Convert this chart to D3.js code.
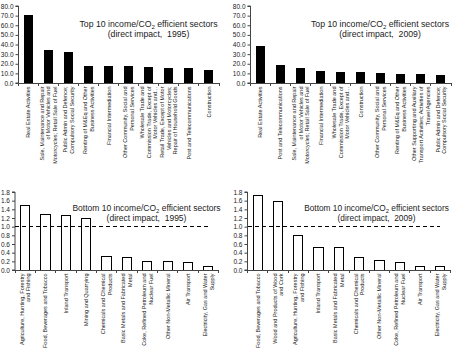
<!DOCTYPE html>
<html><head><meta charset="utf-8">
<script src="https://cdn.jsdelivr.net/npm/d3@7"></script>
<style>
html,body{margin:0;padding:0;background:#fff;}
svg{display:block;font-family:"Liberation Sans",Arial,sans-serif;}
</style></head>
<body><svg id="c" width="453" height="352"></svg>
<script>
// ---------- data ----------
const top1995Sectors = [
  "Real Estate Activities",
  "Sale, Maintenance and Repair|of Motor Vehicles and|Motorcycles; Retail Sale of Fuel",
  "Public Admin and Defence;|Compulsory Social Security",
  "Renting of M&Eq and Other|Business Activities",
  "Financial Intermediation",
  "Other Community, Social and|Personal Services",
  "Wholesale Trade and|Commission Trade, Except of|Motor Vehicles and…",
  "Retail Trade, Except of Motor|Vehicles and Motorcycles;|Repair of Household Goods",
  "Post and Telecommunications",
  "Construction"
];
const top1995Values = [70.8, 34.3, 31.9, 17.7, 17.6, 17.3, 16.5, 15.8, 15.3, 14.0];

const top2009Sectors = [
  "Real Estate Activities",
  "Post and Telecommunications",
  "Sale, Maintenance and Repair|of Motor Vehicles and|Motorcycles; Retail Sale of Fuel",
  "Financial Intermediation",
  "Wholesale Trade and|Commission Trade, Except of|Motor Vehicles and…",
  "Construction",
  "Other Community, Social and|Personal Services",
  "Renting of M&Eq and Other|Business Activities",
  "Other Supporting and Auxiliary|Transport Activities; Activities of|Travel Agencies",
  "Public Admin and Defence;|Compulsory Social Security"
];
const top2009Values = [38.0, 18.9, 15.5, 12.8, 11.4, 11.3, 10.7, 9.5, 9.2, 8.5];

const bottom1995Sectors = [
  "Agriculture, Hunting, Forestry|and Fishing",
  "Food, Beverages and Tobacco",
  "Inland Transport",
  "Mining and Quarrying",
  "Chemicals and Chemical|Products",
  "Basic Metals and Fabricated|Metal",
  "Coke, Refined Petroleum and|Nuclear Fuel",
  "Other Non-Metallic Mineral",
  "Air Transport",
  "Electricity, Gas and Water|Supply"
];
const bottom1995Values = [1.50, 1.28, 1.25, 1.19, 0.31, 0.29, 0.20, 0.19, 0.17, 0.07];

const bottom2009Sectors = [
  "Food, Beverages and Tobacco",
  "Wood and Products of Wood|and Cork",
  "Agriculture, Hunting, Forestry|and Fishing",
  "Inland Transport",
  "Basic Metals and Fabricated|Metal",
  "Chemicals and Chemical|Products",
  "Other Non-Metallic Mineral",
  "Coke, Refined Petroleum and|Nuclear Fuel",
  "Air Transport",
  "Electricity, Gas and Water|Supply"
];
const bottom2009Values = [1.71, 1.57, 0.80, 0.53, 0.51, 0.30, 0.23, 0.18, 0.09, 0.07];

const topTicks = [0, 10, 20, 30, 40, 50, 60, 70, 80];
const bottomTicks = [0, 0.2, 0.4, 0.6, 0.8, 1.0, 1.2, 1.4, 1.6, 1.8];
const referenceLevel = 1.0;

const titleTop = "Top 10 income/CO";
const titleBottom = "Bottom 10 income/CO";
const titleTail = " efficient sectors";

// ---------- layout ----------
const panels = [
  {cats: top1995Sectors, vals: top1995Values, ticks: topTicks, max: 80, title: titleTop, year: "1995",
   x0: 18.5, x1: 219, y0: 83, y1: 6, tx: 148.5, ty: 27, fs: 8.7, filled: true, ref: false},
  {cats: top2009Sectors, vals: top2009Values, ticks: topTicks, max: 80, title: titleTop, year: "2009",
   x0: 250.5, x1: 451, y0: 83, y1: 6, tx: 380, ty: 27, fs: 8.7, filled: true, ref: false},
  {cats: bottom1995Sectors, vals: bottom1995Values, ticks: bottomTicks, max: 1.8, title: titleBottom, year: "1995",
   x0: 15, x1: 218.5, y0: 270, y1: 192, tx: 146.5, ty: 211, fs: 8.5, filled: false, ref: true},
  {cats: bottom2009Sectors, vals: bottom2009Values, ticks: bottomTicks, max: 1.8, title: titleBottom, year: "2009",
   x0: 247.5, x1: 450.5, y0: 270, y1: 192, tx: 376.5, ty: 211, fs: 8.3, filled: false, ref: true}
];

const svg = d3.select("#c");
const ink = "#000";

panels.forEach(p => {
  const g = svg.append("g");
  const x = d3.scaleBand().domain(p.cats).range([p.x0, p.x1]).paddingInner(0.55).paddingOuter(0.275);
  const y = d3.scaleLinear().domain([0, p.max]).range([p.y0, p.y1]);

  // bars
  g.selectAll("rect.bar").data(p.cats).join("rect")
    .attr("x", d => x(d))
    .attr("y", (d, i) => y(p.vals[i]))
    .attr("width", x.bandwidth())
    .attr("height", (d, i) => y(0) - y(p.vals[i]))
    .attr("fill", p.filled ? ink : "#fff")
    .attr("stroke", ink)
    .attr("stroke-width", p.filled ? 0 : 1)
    .attr("shape-rendering", "crispEdges");

  // y axis
  const yAxis = d3.axisLeft(y).tickValues(p.ticks).tickSize(3).tickPadding(2)
    .tickFormat(d3.format(".1f"));
  const ya = g.append("g").attr("transform", `translate(${p.x0},0)`).call(yAxis);
  ya.select(".domain").attr("stroke", "#444").attr("d", `M-3,${p.y1}H0V${p.y0}H-3`);
  ya.selectAll(".tick line").attr("stroke", "#444");
  ya.selectAll(".tick text").attr("font-size", 6.5).attr("fill", "#222")
    .attr("font-family", "'Liberation Sans', Arial, sans-serif");

  // x axis line with ticks between categories
  const step = x.step();
  const bounds = d3.range(p.cats.length + 1).map(i => p.x0 + i * step);
  g.append("line").attr("x1", p.x0).attr("x2", p.x1).attr("y1", p.y0).attr("y2", p.y0)
    .attr("stroke", "#444").attr("stroke-width", 1).attr("shape-rendering", "crispEdges");
  g.selectAll("line.xt").data(bounds).join("line")
    .attr("x1", d => d).attr("x2", d => d).attr("y1", p.y0).attr("y2", p.y0 + 3)
    .attr("stroke", "#444").attr("shape-rendering", "crispEdges");

  // category labels (rotated, aligned to axis)
  p.cats.forEach(c => {
    const lines = c.split("|");
    const cx = x(c) + x.bandwidth() / 2;
    const t = g.append("text")
      .attr("transform", `translate(${cx},${p.y0 + 3.5}) rotate(-90)`)
      .attr("text-anchor", "end")
      .attr("font-size", 5.5)
      .attr("fill", "#222");
    const lh = 6.7;
    lines.forEach((ln, i) => {
      t.append("tspan").attr("x", 0)
        .attr("y", (i - (lines.length - 1) / 2) * lh + 1.9)
        .text(ln);
    });
  });

  // reference line
  if (p.ref) {
    g.append("line")
      .attr("x1", p.x0).attr("x2", x(p.cats[p.cats.length - 1]) + x.bandwidth() / 2)
      .attr("y1", y(referenceLevel)).attr("y2", y(referenceLevel))
      .attr("stroke", ink).attr("stroke-width", 1).attr("stroke-dasharray", "4,3")
      .attr("shape-rendering", "crispEdges");
  }

  // title
  const tt = g.append("text").attr("x", p.tx).attr("y", p.ty).attr("text-anchor", "middle")
    .attr("font-size", p.fs).attr("fill", "#222");
  tt.append("tspan").text(p.title);
  tt.append("tspan").attr("font-size", p.fs * 0.7).attr("dy", 2).text("2");
  tt.append("tspan").attr("dy", -2).text(titleTail);
  g.append("text").attr("x", p.tx).attr("y", p.ty + 9.5).attr("text-anchor", "middle")
    .attr("font-size", p.fs).attr("fill", "#222").style("white-space", "pre")
    .text(`(direct impact,  ${p.year})`);
});
</script></body></html>
